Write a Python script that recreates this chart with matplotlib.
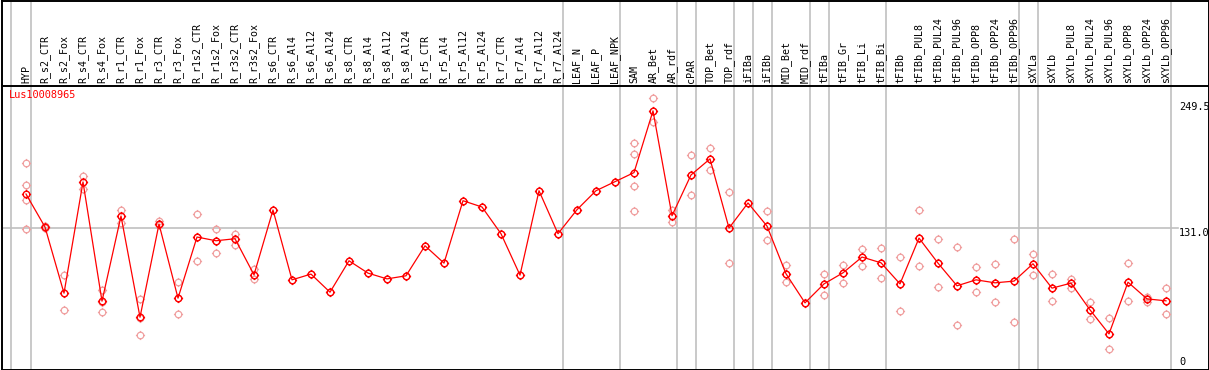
import matplotlib
matplotlib.use("Agg")
import matplotlib.pyplot as plt
from matplotlib.path import Path

# Sample names (one column each)
samples = [
    "HYP", "R_s2_CTR", "R_s2_Fox", "R_s4_CTR", "R_s4_Fox", "R_r1_CTR", "R_r1_Fox",
    "R_r3_CTR", "R_r3_Fox", "R_r1s2_CTR", "R_r1s2_Fox", "R_r3s2_CTR", "R_r3s2_Fox",
    "R_s6_CTR", "R_s6_Al4", "R_s6_Al12", "R_s6_Al24", "R_s8_CTR", "R_s8_Al4",
    "R_s8_Al12", "R_s8_Al24", "R_r5_CTR", "R_r5_Al4", "R_r5_Al12", "R_r5_Al24",
    "R_r7_CTR", "R_r7_Al4", "R_r7_Al12", "R_r7_Al24", "LEAF_N", "LEAF_P", "LEAF_NPK",
    "SAM", "AR_Bet", "AR_rdf", "cPAR", "TOP_Bet", "TOP_rdf", "iFIBa", "iFIBb",
    "MID_Bet", "MID_rdf", "tFIBa", "tFIB_Gr", "tFIB_Li", "tFIB_Bi", "tFIBb",
    "tFIBb_PUL8", "tFIBb_PUL24", "tFIBb_PUL96", "tFIBb_OPP8", "tFIBb_OPP24",
    "tFIBb_OPP96", "sXYLa", "sXYLb", "sXYLb_PUL8", "sXYLb_PUL24", "sXYLb_PUL96",
    "sXYLb_OPP8", "sXYLb_OPP24", "sXYLb_OPP96",
]

# Mean expression per sample
means = [
    163.0, 132.0, 69.9, 174.3, 62.4, 142.3, 47.3, 134.8, 65.2, 122.6, 119.1, 121.0,
    87.1, 148.0, 82.4, 87.8, 70.8, 100.3, 88.7, 83.3, 86.2, 114.4, 98.1, 156.7,
    150.8, 125.7, 86.8, 166.1, 125.7, 148.3, 166.1, 174.6, 183.1, 241.1, 142.6,
    180.9, 196.0, 131.0, 154.6, 132.9, 88.1, 60.8, 78.6, 89.0, 103.8, 98.4, 78.6,
    121.6, 98.1, 76.8, 82.4, 79.6, 81.2, 97.5, 74.6, 79.3, 54.2, 31.6, 80.2, 64.5,
    62.7,
]

# Individual replicates per sample
replicates = [
    [192.2, 171.5, 157.0, 130.1], [133.0, 132.0, 131.0], [87.1, 70.0, 53.9],
    [180.2, 174.3, 167.7], [73.0, 62.0, 52.6], [148.3, 142.3, 135.7],
    [64.5, 47.0, 30.4], [137.3, 134.8, 134.1], [80.2, 65.0, 50.1],
    [144.2, 122.6, 100.0], [130.1, 119.1, 107.5], [125.7, 121.0, 114.7],
    [92.5, 87.1, 83.1], [148.0], [82.4], [87.8], [70.8], [100.3], [88.7], [83.3],
    [86.2], [114.4], [98.1], [156.7], [150.8], [125.7], [86.8], [166.1], [125.7],
    [148.3], [166.1], [174.6],
    [211.0, 200.9, 170.6, 147.3], [253.6, 241.1, 230.4], [147.6, 142.6, 136.7],
    [199.7, 180.9, 162.1], [206.3, 196.0, 185.2], [164.9, 131.0, 98.1], [154.6],
    [147.3, 132.9, 119.8], [96.2, 88.1, 80.5], [60.8], [87.8, 78.6, 68.0],
    [96.2, 89.0, 79.3], [111.3, 103.8, 95.6], [112.5, 98.4, 84.0],
    [103.8, 78.6, 53.2], [148.0, 121.6, 95.6], [120.7, 98.1, 75.5],
    [113.5, 76.8, 39.8], [94.4, 82.4, 71.1], [97.5, 79.6, 61.7],
    [120.7, 81.2, 42.6], [106.9, 97.5, 87.1], [88.1, 74.6, 62.7],
    [83.6, 79.3, 74.9], [61.7, 54.2, 46.0], [46.7, 31.6, 17.5],
    [98.4, 80.2, 62.7], [66.7, 64.5, 62.0], [74.6, 62.7, 50.4],
]

# Group separators (sample index + offset)
separators = [-0.8, 0.25, 28.25, 31.25, 34.25, 35.25, 37.25, 38.25, 39.25, 41.25,
              42.25, 45.25, 52.25, 53.25, 60.25]

gene = "Lus10008965"
y_max = 249.5
y_mid = 131.0

GRAY = "#c0c0c0"
PINK = "#f0a0a0"
MONO = "DejaVu Sans Mono"

# circle marker with four small ticks
tick_paths = [Path([(0, 1.0), (0, 1.4)]), Path([(0, -1.0), (0, -1.4)]),
              Path([(1.0, 0), (1.4, 0)]), Path([(-1.0, 0), (-1.4, 0)])]
marker = Path.make_compound_path(Path.unit_circle(), *tick_paths)

W, H = 1209, 370
fig = plt.figure(figsize=(W / 100, H / 100), dpi=100)

xlim = ((1.5 - 26) / 19, (1208.5 - 26) / 19)
top_px = 85.5
ax_lab = fig.add_axes([1.5 / W, (H - top_px) / H, 1207 / W, (top_px - 0.5) / H])
ax = fig.add_axes([1.5 / W, 0.5 / H, 1207 / W, (369.5 - top_px) / H], sharex=ax_lab)

x = list(range(len(samples)))

# label strip
ax_lab.set_xlim(*xlim)
ax_lab.set_ylim(0, 1)
for s in separators:
    ax_lab.axvline(s, color=GRAY, lw=1.2, zorder=0)
for i, name in enumerate(samples):
    ax_lab.text(i, 0.035, name, rotation=90, ha="center", va="bottom",
                fontsize=7.2, family=MONO)

# main plot
ax.set_ylim(-1.8, 264.9)
for s in separators:
    ax.axvline(s, color=GRAY, lw=1.2, zorder=0)
ax.plot([xlim[0], 60.63], [y_mid, y_mid], color=GRAY, lw=1.2, zorder=0)

for i, reps in enumerate(replicates):
    ax.plot([i] * len(reps), reps, linestyle="none", marker=marker, ms=6.6,
            mfc="none", mec=PINK, mew=0.9, zorder=2)
ax.plot(x, means, color="#ff0000", lw=0.9, marker=marker, ms=6.6,
        mfc="none", mec="#ff0000", mew=1.0, zorder=3)

ax.text(-0.9, 256, gene, color="#ff0000", fontsize=7.4, family=MONO,
        va="center", ha="left")
ax.text(60.7, y_max, f"{y_max:.1f}", fontsize=7.4, family=MONO, va="top", ha="left")
ax.text(60.7, y_mid, f"{y_mid:.1f}", fontsize=7.4, family=MONO, va="top", ha="left")
ax.text(60.7, 0.5, "0", fontsize=7.4, family=MONO, va="bottom", ha="left")

for a in (ax, ax_lab):
    a.set_xticks([])
    a.set_yticks([])
    for sp in a.spines.values():
        sp.set_color("black")
        sp.set_linewidth(1.4)
ax_lab.spines["bottom"].set_visible(False)

fig.savefig("out.png", dpi=100)
